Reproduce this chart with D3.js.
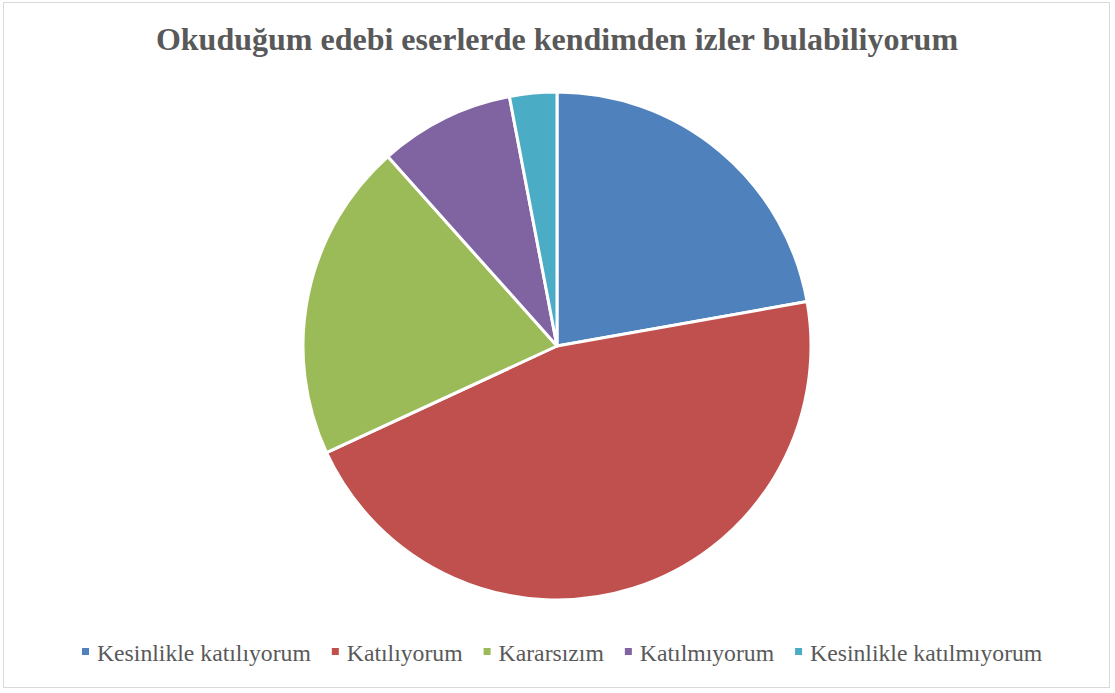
<!DOCTYPE html>
<html>
<head>
<meta charset="utf-8">
<script src="https://cdn.jsdelivr.net/npm/d3@7"></script>
</head>
<body style="margin:0">
<script>
var width = 1115;
var height = 693;

var title = 'Okuduğum edebi eserlerde kendimden izler bulabiliyorum';
var categories = ['Kesinlikle katılıyorum', 'Katılıyorum', 'Kararsızım', 'Katılmıyorum', 'Kesinlikle katılmıyorum'];
var values = [22.2, 45.9, 20.3, 8.6, 3.0];
var colors = ['#4f81bd', '#c0504d', '#9bbb59', '#8064a2', '#4bacc6'];

var fontFamily = 'Times New Roman, Liberation Serif, serif';

var svg = d3.select('body').append('svg')
    .attr('width', width)
    .attr('height', height);

svg.append('rect')
    .attr('x', 3.5).attr('y', 2.5)
    .attr('width', 1106).attr('height', 685)
    .attr('fill', '#fff')
    .attr('stroke', '#d9d9d9')
    .attr('stroke-width', 1);

svg.append('text')
    .attr('x', 557).attr('y', 50)
    .attr('text-anchor', 'middle')
    .style('font-family', fontFamily)
    .style('font-size', '32px')
    .style('font-weight', 'bold')
    .attr('fill', '#595959')
    .text(title);

var data = categories.map((c, i) => ({ name: c, value: values[i], color: colors[i] }));

var pie = d3.pie().sort(null).value((d) => d.value);
var arc = d3.arc().innerRadius(0).outerRadius(254);

var g = svg.append('g').attr('transform', 'translate(557,346)');

g.selectAll('path')
    .data(pie(data))
    .enter().append('path')
    .attr('d', arc)
    .attr('fill', (d) => d.data.color)
    .attr('stroke', '#fff')
    .attr('stroke-width', 3)
    .attr('stroke-linejoin', 'round');

// legend
var legend = svg.append('g').attr('transform', 'translate(0,661)');
var x = 82;
data.forEach((d) => {
    var item = legend.append('g').attr('transform', `translate(${x},0)`);
    item.append('rect')
        .attr('x', 0).attr('y', -13)
        .attr('width', 7).attr('height', 7)
        .attr('fill', d.color);
    var t = item.append('text')
        .attr('x', 15).attr('y', 0)
        .style('font-family', fontFamily)
        .style('font-size', '23.7px')
        .attr('fill', '#595959')
        .text(d.name);
    x += 15 + t.node().getComputedTextLength() + 21;
});
</script>
</body>
</html>
